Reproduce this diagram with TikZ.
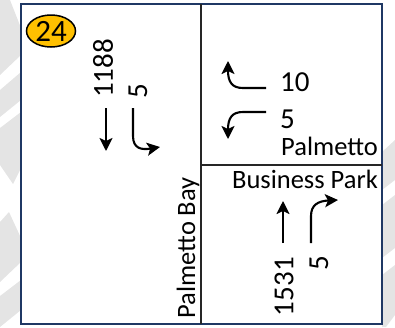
\documentclass[tikz,border=0pt]{standalone}
\usepackage{fontspec}
\setmainfont{Carlito}
\usetikzlibrary{arrows.meta,shapes.geometric}
\definecolor{navy}{HTML}{1F3864}
\definecolor{gold}{HTML}{FFC000}
\definecolor{wm}{HTML}{E4E4E4}
\tikzset{
  lbl/.style={inner sep=0pt, font=\fontsize{29}{30}\selectfont},
  street/.style={inner sep=0pt, font=\fontsize{26.5}{30}\selectfont},
  mv/.style={line width=2.1pt, -{Stealth[length=13pt,width=13pt,inset=3pt]}},
  divider/.style={line width=1.3pt, draw=black!85},
  wmark/.style={fill=wm, draw=none}
}
\begin{document}
\begin{tikzpicture}[x=1pt,y=-1pt]
\useasboundingbox (0,0) rectangle (395,327);
% watermark fragments
\fill[wmark] (0,0) -- (10,0) -- (21,28) -- (21,55) -- (0,75) -- cycle;
\fill[wmark] (0,90) -- (21,72) -- (21,100) -- (0,117) -- cycle;
\fill[wmark] (0,128) -- (21,112) -- (21,168) -- (13,184) -- (0,165) -- cycle;
\fill[wmark] (0,222) -- (9,212) -- (21,238) -- (21,262) -- (0,282) -- cycle;
\fill[wmark] (0,296) -- (21,280) -- (21,310) -- (0,327) -- cycle;
\fill[wmark] (395,140) -- (395,180) -- (382,190) -- (382,152) -- cycle;
\fill[wmark] (395,195) -- (395,248) -- (382,258) -- (382,205) -- cycle;
\fill[wmark] (395,265) -- (395,315) -- (386,327) -- (382,327) -- (382,275) -- cycle;
% frame
\draw[navy, line width=2pt, fill=white] (21,4) rectangle (382,324);
\coordinate (vt) at (201,4);
\coordinate (vb) at (201,324);
\coordinate (hl) at (201,165);
\coordinate (hr) at (382,165);
\draw[divider] (vt) -- (vb);
\draw[divider] (hl) -- (hr);
% badge
\node[ellipse, draw=black, line width=1.5pt, fill=gold, minimum width=49pt, minimum height=32pt, inner sep=0pt, font=\fontsize{31}{32}\selectfont] (badge) at (51,31) {24};
% southbound
\node[lbl, rotate=90, anchor=west] (sbt) at (103,98) {1188};
\node[lbl, rotate=90, anchor=west] (sbr) at (138,99) {5};
\draw[mv] (106,108) -- (106,151);
\draw[mv] (133,108) -- (133,136) .. controls (133,149) and (142,150) .. (160,147);
% westbound
\node[lbl, anchor=west] (wbl) at (280,82) {10};
\node[lbl, anchor=west] (wbr) at (280,119) {5};
\draw[mv] (266,88) -- (243,88) .. controls (232,88) and (228,82) .. (228,61);
\draw[mv] (266,112) -- (243,112) .. controls (232,112) and (228,118) .. (228,139);
\node[street, anchor=base west] (pal) at (281,155) {Palmetto};
\node[street, anchor=base east] (bp) at (378,188) {Business Park};
% northbound
\node[lbl, rotate=90, anchor=east] (nbt) at (284,257) {1531};
\node[lbl, rotate=90, anchor=east] (nbr) at (319,256) {5};
\draw[mv] (283,243) -- (283,201);
\draw[mv] (311,243) -- (311,216) .. controls (311,205) and (318,201) .. (338,200);
\node[street, rotate=90, anchor=base] (pb) at (195,248) {Palmetto Bay};
\end{tikzpicture}
\end{document}
